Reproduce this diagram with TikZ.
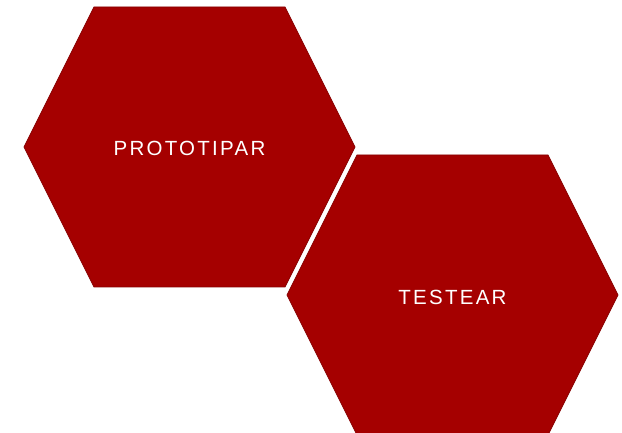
\documentclass[tikz,border=0pt]{standalone}
\usepackage{fontspec}
\setmainfont{Liberation Sans}
\newfontfamily\spacedfont[LetterSpace=11]{Liberation Sans}
\definecolor{hexred}{RGB}{165,0,0}
\definecolor{hexedge}{RGB}{135,0,0}
\tikzset{
  hexshape/.style={fill=hexred, draw=hexedge, line width=0.8pt, line join=miter},
  hexlabel/.style={text=white, font=\spacedfont\fontsize{20.5}{24}\selectfont, inner sep=0pt}
}
\begin{document}
\begin{tikzpicture}[x=1pt,y=-1pt]
\useasboundingbox (0,0) rectangle (622,433);
\begin{scope}
\clip (0,0) rectangle (622,433);
\draw[hexshape] (94,7) -- (285,7) -- (355,147) -- (285,287) -- (94,287) -- (24,147) -- cycle;
\draw[hexshape] (357,155) -- (548,155) -- (618,295) -- (548,435) -- (357,435) -- (287,295) -- cycle;
\end{scope}
\node[hexlabel] (proto) at (189.5,148.5) {PROTOTIPAR};
\node[hexlabel] (test) at (452.5,297.5) {TESTEAR};
\end{tikzpicture}
\end{document}
